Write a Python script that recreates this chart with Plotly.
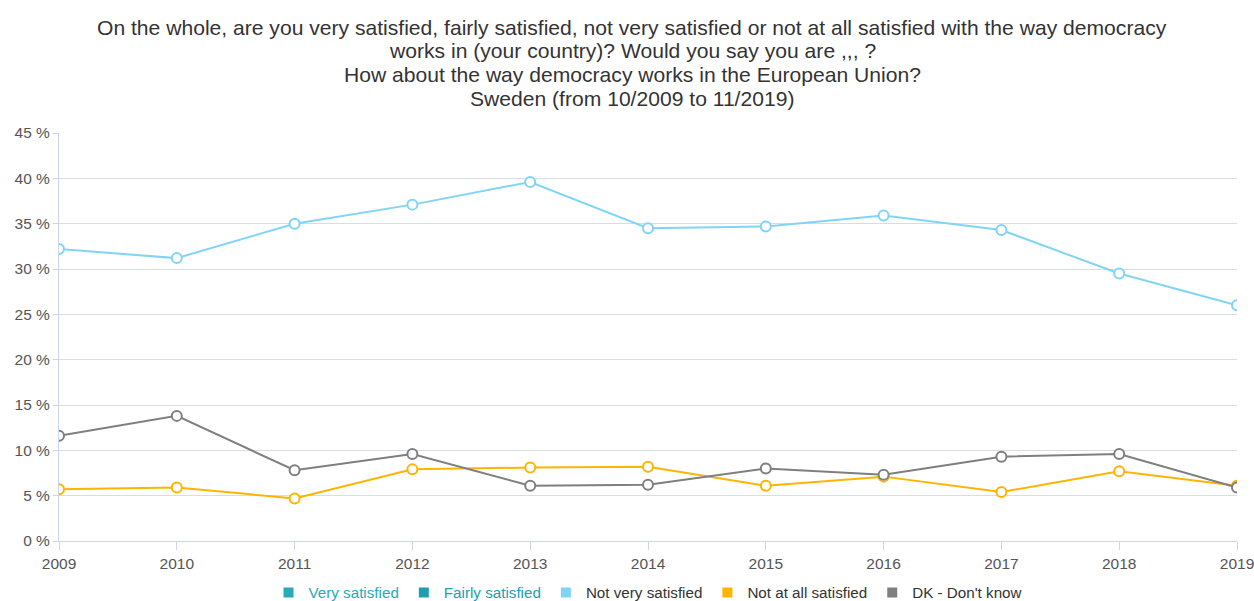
import plotly.graph_objects as go

years = [2009, 2010, 2011, 2012, 2013, 2014, 2015, 2016, 2017, 2018, 2019]
not_very = [32.2, 31.2, 35.0, 37.1, 39.6, 34.5, 34.7, 35.9, 34.3, 29.5, 26.0]
not_at_all = [5.7, 5.9, 4.7, 7.9, 8.1, 8.2, 6.1, 7.1, 5.4, 7.7, 6.1]
dk = [11.6, 13.8, 7.8, 9.6, 6.1, 6.2, 8.0, 7.3, 9.3, 9.6, 5.9]
y_ticks = [0, 5, 10, 15, 20, 25, 30, 35, 40, 45]

legend_names = ["Very satisfied", "Fairly satisfied", "Not very satisfied",
                "Not at all satisfied", "DK - Don't know"]
legend_colors = ["#2aa9b8", "#1d9fae", "#80d4f6", "#ffb400", "#7f7f7f"]
legend_text_colors = ["#2aa9b8", "#1d9fae", "#333333", "#333333", "#333333"]

title_lines = [
    "On the whole, are you very satisfied, fairly satisfied, not very satisfied or not at all satisfied with the way democracy",
    "works in (your country)? Would you say you are ,,, ?",
    "How about the way democracy works in the European Union?",
    "Sweden (from 10/2009 to 11/2019)",
]

W, H = 1254, 601
L, R, T, B = 59, 17, 133, 60
plot_h = H - T - B
plot_w = W - L - R

fig = go.Figure()

series = [(not_very, "#80d4f6"), (not_at_all, "#ffb400"), (dk, "#7f7f7f")]
for vals, col in series:
    fig.add_trace(go.Scatter(
        x=years, y=vals, mode="lines+markers", showlegend=False,
        line=dict(color=col, width=2),
        marker=dict(size=10, color="white", line=dict(color=col, width=2)),
        hoverinfo="x+y",
    ))

for name, col, tcol in zip(legend_names, legend_colors, legend_text_colors):
    fig.add_trace(go.Scatter(
        x=[None], y=[None], mode="markers",
        name=f'<span style="color:{tcol}">{name}</span>',
        marker=dict(symbol="square", size=10, color=col),
    ))

# title lines placed individually to match line spacing
title_centers_px = [27, 50, 74, 98]
for txt, py in zip(title_lines, title_centers_px):
    fig.add_annotation(
        text=txt, xref="paper", yref="paper",
        x=(632 - L) / plot_w, y=(H - B - py) / plot_h,
        xanchor="center", yanchor="middle", showarrow=False,
        font=dict(size=21.1, color="#333333"),
    )

fig.update_layout(
    width=W, height=H,
    paper_bgcolor="white", plot_bgcolor="white",
    font=dict(family="Liberation Sans, Arial, sans-serif", color="#333333"),
    margin=dict(l=L, r=R, t=T, b=B, autoexpand=False),
    showlegend=True,
    legend=dict(orientation="h", x=0.5, xanchor="center",
                yref="container", y=1 - 576 / H, yanchor="top",
                font=dict(size=15.2, color="#333333"),
                tracegroupgap=0),
    xaxis=dict(range=[2009, 2019], tickmode="array", tickvals=years,
               ticktext=[str(y) for y in years], automargin=False,
               ticklabeloverflow="allow",
               showgrid=False, showline=True, linecolor="#ccd6eb", linewidth=1,
               ticks="outside", tickcolor="#ccd6eb", ticklen=8,
               tickfont=dict(size=15.5, color="#555555"), zeroline=False),
    yaxis=dict(range=[0, 45], tickmode="array", tickvals=y_ticks,
               ticktext=[f"{v} %" for v in y_ticks], automargin=False,
               showgrid=True, gridcolor="#d5dde5", gridwidth=1,
               showline=True, linecolor="#ccd6eb", linewidth=1,
               ticks="outside", tickcolor="#ccd6eb", ticklen=5,
               tickfont=dict(size=15.5, color="#555555"), zeroline=False),
)

fig.write_html("out.html", config={"displayModeBar": False},
               post_script="document.body.style.margin='0';document.body.style.overflow='hidden';")
